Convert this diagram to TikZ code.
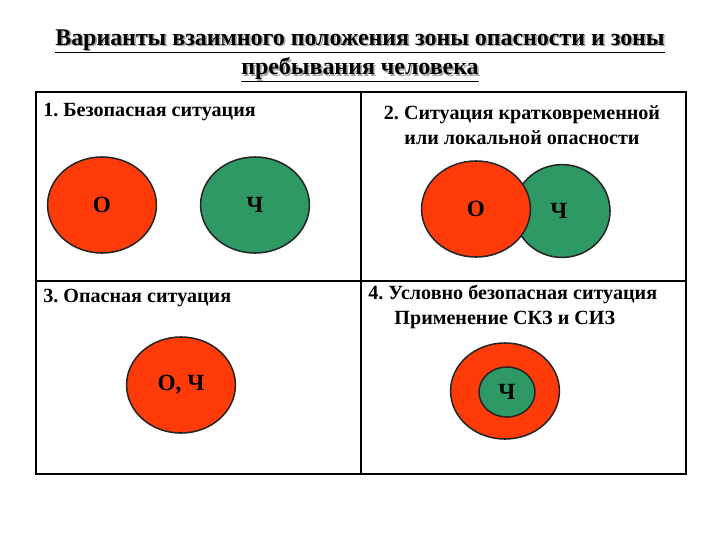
\documentclass[tikz,border=0pt]{standalone}
\usepackage{fontspec}
\setmainfont{Liberation Serif}
\usepackage{xcolor}
\usepackage{tikz}
\usetikzlibrary{shapes.geometric}
\definecolor{dangerred}{HTML}{FF3B0A}
\definecolor{humangreen}{HTML}{2F9966}
\frenchspacing
\newcommand{\shadtitle}[1]{\rlap{\raisebox{-1.2pt}{\hspace{1.2pt}\color{black!35}#1}}\underline{#1}}
\tikzset{
	zone/.style={ellipse,draw=black!85,line width=1.1pt,inner sep=0pt,font=\bfseries\fontsize{16.5}{16.5}\selectfont},
	danger/.style={zone,fill=dangerred,minimum width=2.72cm,minimum height=2.4cm},
	human/.style={zone,fill=humangreen,minimum width=2.72cm,minimum height=2.4cm},
	caption/.style={font=\bfseries\fontsize{14.3}{18}\selectfont,inner sep=0pt},
	grid line/.style={draw=black,line width=0.8pt}
}

\begin{document}
\begin{tikzpicture}[x=0.025cm,y=-0.025cm]
	\useasboundingbox (0,0) rectangle (720,540);
	% title
	\node [font=\bfseries\fontsize{17}{21}\selectfont,align=center] (title) at (360,56)
		{\shadtitle{Варианты взаимного положения зоны опасности и зоны}\\ \shadtitle{пребывания человека}};
	% table
	\draw [grid line] (36,92) rectangle (686,474);
	\draw [grid line] (361,92) -- (361,474);
	\draw [grid line] (36,281) -- (686,281);
	% 1
	\node [caption,anchor=west] (cap1) at (43,112) {1. Безопасная ситуация};
	\node [danger] (o1) at (102,205) {О};
	\node [human] (h1) at (255,205) {Ч};
	% 2
	\node [caption,align=center] (cap2) at (522,125) {2. Ситуация кратковременной\\или локальной опасности};
	\node [human,minimum width=2.4cm,minimum height=2.32cm] (h2) at (562,211) {};
	\node [danger] (o2) at (476,209) {О};
	\node [font=\bfseries\fontsize{16.5}{16.5}\selectfont] (h2l) at (559,211) {Ч};
	% 3
	\node [caption,anchor=west] (cap3) at (43,298) {3. Опасная ситуация};
	\node [danger] (o3) at (181,385) {О, Ч};
	% 4
	\node [caption,anchor=west,align=left] (cap4) at (368,307) {4. Условно безопасная ситуация\\\hspace{1.3em}Применение СКЗ и СИЗ};
	\node [danger] (o4) at (505,391) {};
	\node [human,minimum width=1.4cm,minimum height=1.25cm] (h4) at (507,392) {Ч};
\end{tikzpicture}
\end{document}
